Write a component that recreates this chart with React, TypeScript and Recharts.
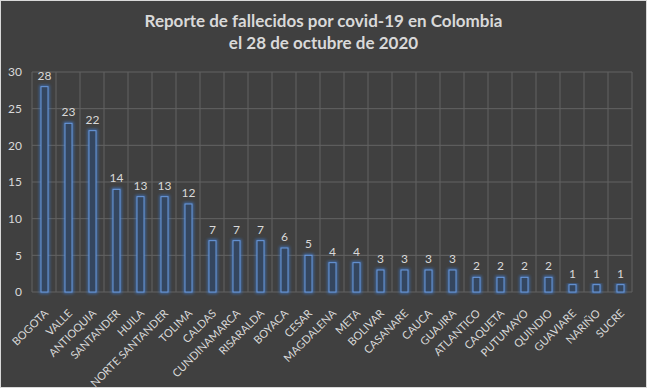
import { Bar, BarChart, CartesianGrid, LabelList, XAxis, YAxis } from 'recharts';

const departamentos = [
  'BOGOTA', 'VALLE', 'ANTIOQUIA', 'SANTANDER', 'HUILA', 'NORTE SANTANDER', 'TOLIMA',
  'CALDAS', 'CUNDINAMARCA', 'RISARALDA', 'BOYACA', 'CESAR', 'MAGDALENA', 'META',
  'BOLIVAR', 'CASANARE', 'CAUCA', 'GUAJIRA', 'ATLANTICO', 'CAQUETA', 'PUTUMAYO',
  'QUINDIO', 'GUAVIARE', 'NARIÑO', 'SUCRE',
];
const fallecidos = [28, 23, 22, 14, 13, 13, 12, 7, 7, 7, 6, 5, 4, 4, 3, 3, 3, 3, 2, 2, 2, 2, 1, 1, 1];
const yTicks = [0, 5, 10, 15, 20, 25, 30];

const data = departamentos.map((name, i) => ({ name, value: fallecidos[i] }));

const FONT = "Lato, 'Open Sans', sans-serif";
const TEXT = '#d9d9d9';

const GlowBar = (props: any) => {
  const { x, y, width, height } = props;
  if (height <= 0) return null;
  return (
    <g>
      <rect x={x} y={y} width={width} height={height} fill="none" stroke="#3f7fd8" strokeWidth={3} filter="url(#glow)" opacity={0.7} />
      <rect x={x} y={y} width={width} height={height} fill="#34465f" stroke="#6a9ade" strokeWidth={1} />
    </g>
  );
};

const RotatedTick = (props: any) => {
  const { x, y, payload } = props;
  const ax = x + 5;
  const ay = y + 14;
  return (
    <text x={ax} y={ay} textAnchor="end" fill={TEXT} fontSize={11} fontFamily={FONT} transform={`rotate(-45, ${ax}, ${ay})`}>
      {payload.value}
    </text>
  );
};

export default function App() {
  return (
    <div style={{ position: 'fixed', left: 0, top: 0, width: 647, height: 388, background: '#404040', boxSizing: 'border-box', border: '1px solid #d9d9d9' }}>
      <div style={{ position: 'absolute', top: 9, left: 0, width: 645, textAlign: 'center', color: TEXT, fontFamily: FONT, fontWeight: 700, fontSize: 17, lineHeight: '22px' }}>
        Reporte de fallecidos por covid-19 en Colombia
        <br />
        el 28 de octubre de 2020
      </div>
      <div style={{ position: 'absolute', left: -1, top: -1 }}>
        <BarChart width={647} height={388} data={data} margin={{ top: 72, right: 15, bottom: 0, left: 0 }} barSize={7}>
          <defs>
            <filter id="glow" x="-100%" y="-20%" width="300%" height="140%">
              <feGaussianBlur stdDeviation="1.8" />
            </filter>
          </defs>
          <CartesianGrid
            stroke="#636363"
            verticalCoordinatesGenerator={({ offset }: any) =>
              departamentos.map((_, i) => offset.left + (i * offset.width) / departamentos.length).concat(offset.left + offset.width)
            }
          />
          <XAxis dataKey="name" interval={0} height={96} tickLine={false} axisLine={false} tick={<RotatedTick />} />
          <YAxis
            domain={[0, 30]}
            ticks={yTicks}
            width={32}
            tickLine={false}
            axisLine={false}
            tickSize={0}
            tickMargin={10}
            tick={{ fill: TEXT, fontSize: 12, fontFamily: FONT }}
          />
          <Bar dataKey="value" shape={<GlowBar />} isAnimationActive={false}>
            <LabelList dataKey="value" position="top" offset={7} fill={TEXT} fontSize={12} fontFamily={FONT} />
          </Bar>
        </BarChart>
      </div>
    </div>
  );
}
